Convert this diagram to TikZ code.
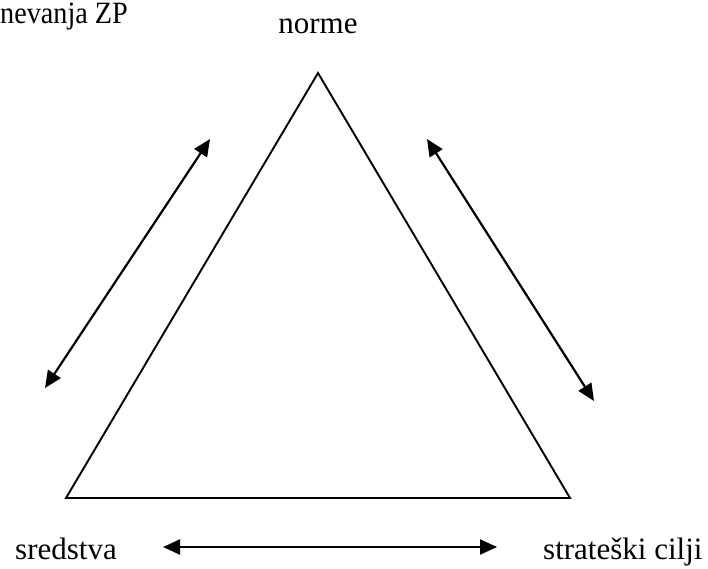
\documentclass[tikz,border=0pt]{standalone}
\usepackage{fontspec}
\setmainfont{Liberation Serif}
\usetikzlibrary{arrows.meta}
\begin{document}
\begin{tikzpicture}[x=1pt,y=-1pt,
  lbl/.style={inner sep=0pt,font=\fontsize{31}{37}\selectfont},
  edge/.style={line width=1.9pt,line join=miter},
  dbl/.style={line width=2.2pt,{Triangle[length=17pt,width=15pt]}-{Triangle[length=17pt,width=15pt]}}]
\useasboundingbox (0,0) rectangle (708,568);
\coordinate (top) at (318,73);
\coordinate (bl) at (66,498);
\coordinate (br) at (570,498);
\draw[edge] (top) -- (bl) -- (br) -- cycle;
\node[lbl,anchor=base west] (zp) at (0,23) {\scalebox{0.91}[1]{nevanja ZP}};
\node[lbl,anchor=base] (norme) at (318,33) {norme};
\node[lbl,anchor=base west] (sred) at (15,559) {sredstva};
\node[lbl,anchor=base west] (strat) at (543,559) {strateški cilji};
\coordinate (la) at (45,388);
\coordinate (lb) at (210,139);
\coordinate (ra) at (427,139);
\coordinate (rb) at (594,401);
\coordinate (ba) at (163,547);
\coordinate (bb) at (497,547);
\draw[dbl] (la) -- (lb);
\draw[dbl] (ra) -- (rb);
\draw[dbl] (ba) -- (bb);
\end{tikzpicture}
\end{document}
